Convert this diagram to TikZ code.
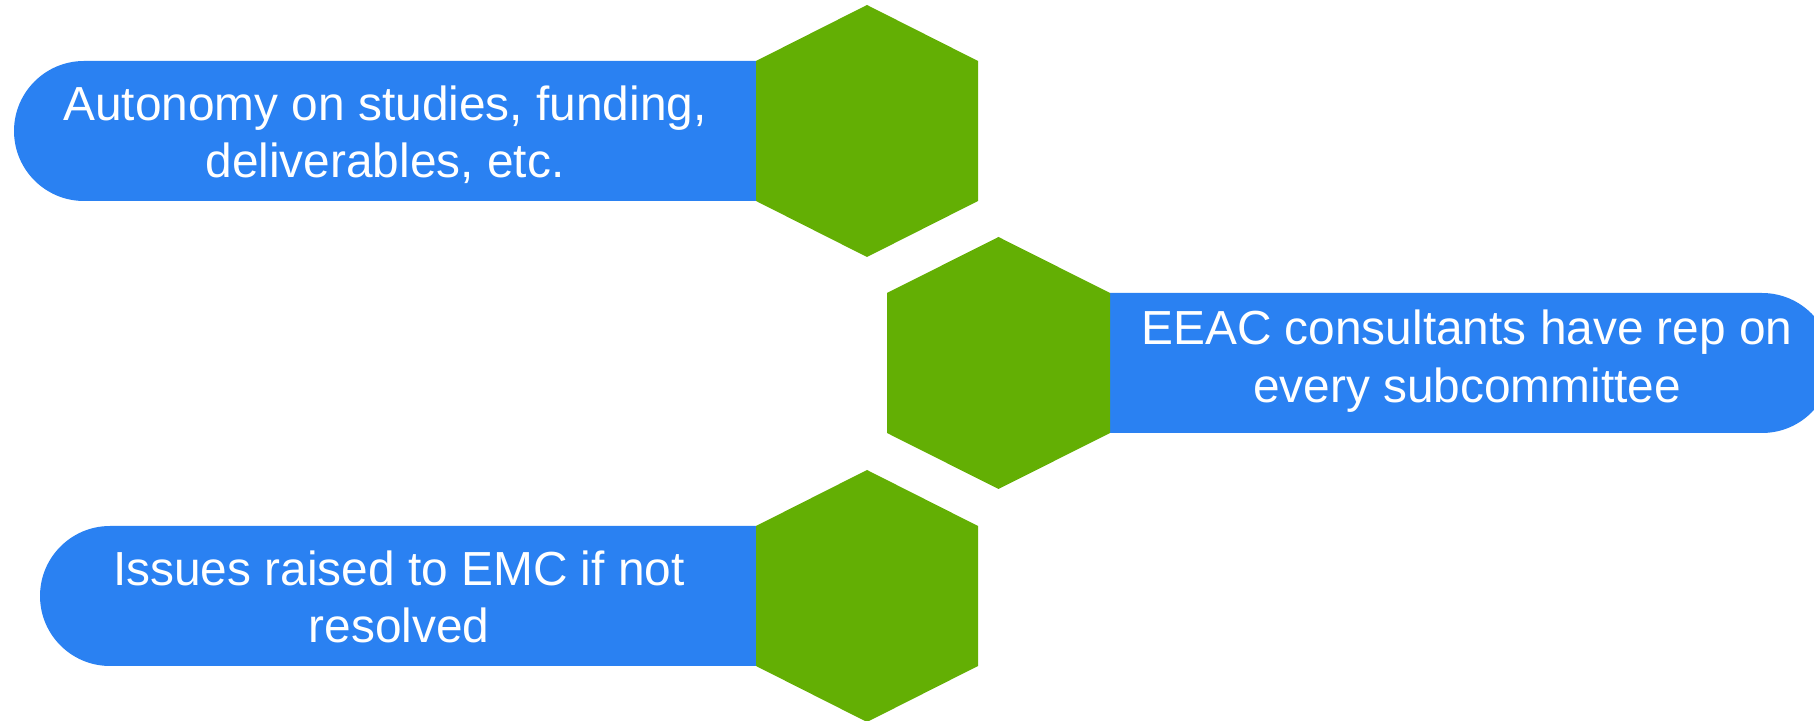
\documentclass[tikz,border=0pt]{standalone}
\usepackage{fontspec}
\setmainfont{Liberation Sans}
\definecolor{barblue}{RGB}{42,129,242}
\definecolor{hexgreen}{RGB}{99,175,4}
\tikzset{
    bar/.style={fill=barblue},
    hexa/.style={fill=hexgreen},
    caption/.style={text=white, align=center, inner sep=0pt,
        font=\fontsize{13.6}{16.3}\selectfont}
}
\begin{document}
\begin{tikzpicture}[x=0.01cm,y=0.01cm]
            \useasboundingbox (0,0) rectangle (1814,721);
            \clip (0,0) rectangle (1814,721);
            % top row
            \fill [bar] (756,660) -- (84,660) arc (90:270:70) -- (756,520) -- cycle;
            \fill [hexa] (867,716) -- (978,660) -- (978,520) -- (867,464)
                -- (756,520) -- (756,660) -- cycle;
            \node [caption] (autonomy) at (385,586)
                {Autonomy on studies, funding,\\deliverables, etc.};
            % middle row
            \fill [bar] (1110,428) -- (1762,428) arc (90:-90:70) -- (1110,288) -- cycle;
            \fill [hexa] (998.5,484) -- (1110,428) -- (1110,288) -- (998.5,232)
                -- (887,288) -- (887,428) -- cycle;
            \node [caption] (consultants) at (1467,360)
                {EEAC consultants have rep on\\every subcommittee};
            % bottom row
            \fill [bar] (756,195) -- (110,195) arc (90:270:70) -- (756,55) -- cycle;
            \fill [hexa] (867,251) -- (978,195) -- (978,55) -- (867,-1)
                -- (756,55) -- (756,195) -- cycle;
            \node [caption] (issues) at (399,124)
                {Issues raised to EMC if not\\resolved};
        \end{tikzpicture}
\end{document}
